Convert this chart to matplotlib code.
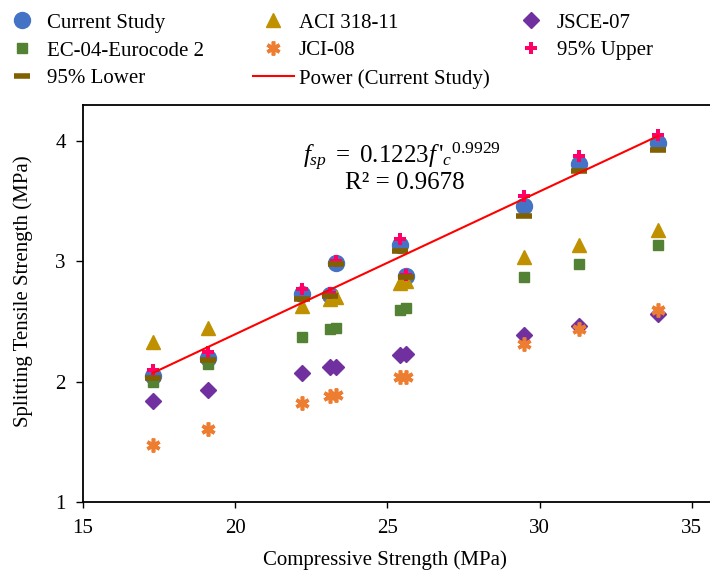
import numpy as np
import matplotlib
matplotlib.use("Agg")
import matplotlib.pyplot as plt

plt.rcParams['font.family'] = ['Liberation Serif', 'DejaVu Serif']
plt.rcParams['mathtext.fontset'] = 'custom'
plt.rcParams['mathtext.rm'] = 'Liberation Serif'
plt.rcParams['mathtext.it'] = 'Liberation Serif:italic'

# ---- data ----
fc = [17.3, 19.1, 22.2, 23.1, 23.3, 25.4, 25.6, 29.5, 31.3, 33.9]
current_study = [2.05, 2.20, 2.73, 2.72, 2.99, 3.14, 2.88, 3.46, 3.81, 3.98]
upper95 = [2.10, 2.25, 2.77, 2.74, 3.00, 3.19, 2.89, 3.54, 3.88, 4.05]
lower95 = [2.03, 2.18, 2.69, 2.71, 2.98, 3.09, 2.87, 3.38, 3.75, 3.93]
aci = [2.33, 2.45, 2.63, 2.69, 2.70, 2.82, 2.84, 3.04, 3.14, 3.26]
ec = [2.00, 2.15, 2.37, 2.44, 2.45, 2.60, 2.61, 2.87, 2.98, 3.14]
jsce = [1.84, 1.93, 2.07, 2.12, 2.12, 2.22, 2.23, 2.39, 2.46, 2.56]
jci = [1.47, 1.61, 1.82, 1.88, 1.89, 2.04, 2.04, 2.31, 2.44, 2.60]
fit_a = 0.1223
fit_b = 0.9929
r2 = 0.9678
xticks = [15, 20, 25, 30, 35]
yticks = [1, 2, 3, 4]

W, H = 710, 572
fig = plt.figure(figsize=(W / 100, H / 100), dpi=100)
ax = fig.add_axes([83 / W, 1 - 502 / H, 1 - 83 / W, (502 - 105) / H])

x = np.array(fc)
h_cur, = ax.plot(x, current_study, 'o', color='#4472C4', ms=11.5, ls='none', label='Current Study', zorder=3)
h_aci, = ax.plot(x, aci, '^', color='#BF9000', ms=9.5, ls='none', label='ACI 318-11', zorder=3)
h_jsce, = ax.plot(x, jsce, 'D', color='#7030A0', ms=8, ls='none', label='JSCE-07', zorder=3)
h_ec, = ax.plot(x, ec, 's', color='#548235', ms=7.5, ls='none', label='EC-04-Eurocode 2', zorder=3)
h_jci, = ax.plot(x, jci, ls='none', marker=(6, 2, 0), color='#ED7D31', mec='#ED7D31', ms=10, mew=2.6, label='JCI-08', zorder=3)
h_up, = ax.plot(x, upper95, 'P', color='#FF0066', ms=9, mew=0, ls='none', label='95% Upper', zorder=4)
h_lo, = ax.plot(x, lower95, '_', color='#806000', ms=12, mew=4, ls='none', label='95% Lower', zorder=4)
xf = np.linspace(x.min(), x.max(), 100)
h_pow, = ax.plot(xf, fit_a * xf ** fit_b, '-', color='#FF0000', lw=1.5, label='Power (Current Study)', zorder=5)

ax.set_xticks(xticks)
ax.set_yticks(yticks)
ax.set_xlim(15, 15 + (W - 83) / 30.44)
ax.set_ylim(1, 4.3)
ax.spines['right'].set_visible(False)
for s in ['top', 'bottom', 'left']:
    ax.spines[s].set_linewidth(1.3)
ax.tick_params(axis='x', direction='out', length=4, width=1, pad=8, labelsize=15)
ax.tick_params(axis='y', direction='out', length=5, width=1, pad=7.5, labelsize=15)

fig.text(23 / W, 1 - 291 / H, 'Splitting Tensile Strength (MPa)', rotation=90,
         ha='center', va='center', fontsize=15)
fig.text(385 / W, 1 - 560 / H, 'Compressive Strength (MPa)', ha='center', va='center', fontsize=15)

fig.text(402 / W, 1 - 163 / H,
         r"$f_{sp}\ =\ \mathrm{0.1223}f\,'_{c}{}^{\mathrm{0.9929}}$",
         ha='center', va='baseline', fontsize=18)
fig.text(405 / W, 1 - 189 / H, 'R\u00b2 = %.4f' % r2, ha='center', va='baseline', fontsize=18)

cols = [([h_cur, h_ec, h_lo], 1.5), ([h_aci, h_jci, h_pow], 253), ([h_jsce, h_up], 511)]
for handles, x0 in cols:
    fig.legend(handles=handles, labels=[h.get_label() for h in handles],
               loc='upper left', bbox_to_anchor=(x0 / W, 1 - 13 / H),
               frameon=False, borderpad=0, borderaxespad=0, fontsize=15,
               handlelength=1.95, handletextpad=0.25, labelspacing=0.4)

fig.savefig('out.png', dpi=100)
